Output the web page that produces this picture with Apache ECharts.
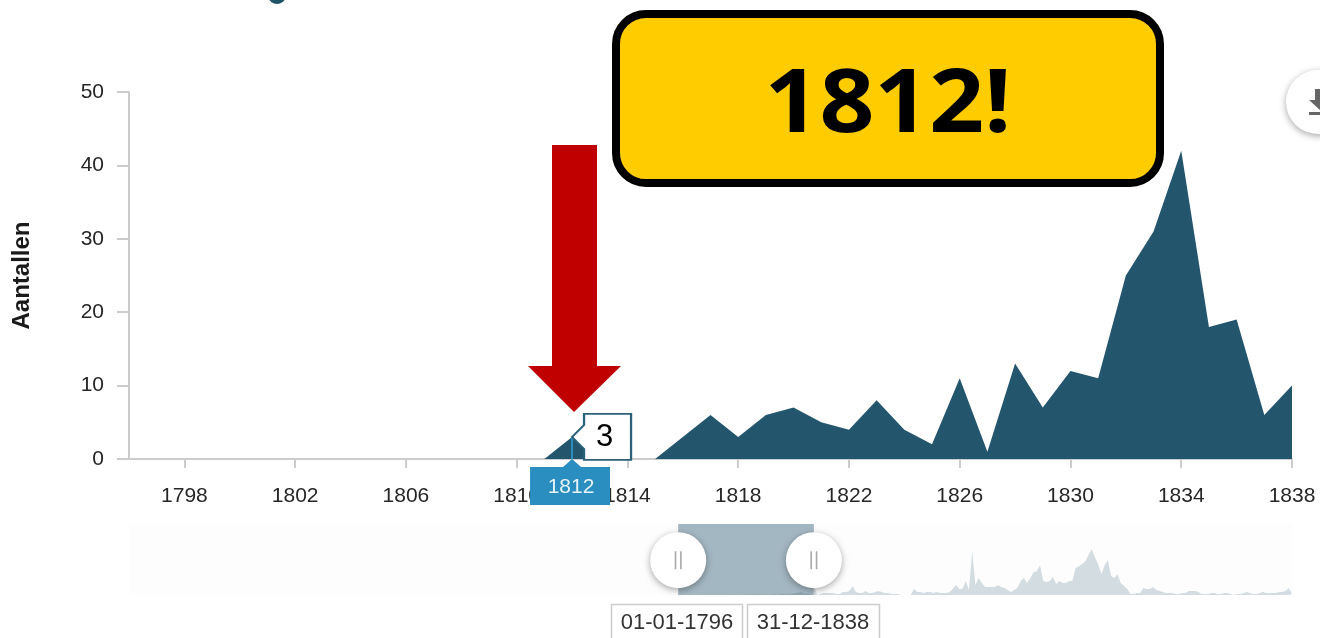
<!DOCTYPE html>
<html>
<head>
<meta charset="utf-8">
<style>html,body{margin:0;padding:0;background:#fff;overflow:hidden}#c{width:1320px;height:638px}</style>
<script src="https://cdn.jsdelivr.net/npm/echarts@6/dist/echarts.min.js"></script>
</head>
<body>
<div id="c"></div>
<script>
const firstYear = 1796;
const counts = [0,0,0,0,0,0,0,0,0,0,0,0,0,0,0,0,3,0,0,0,3,6,3,6,7,5,4,8,4,2,11,1,13,7,12,11,25,31,42,18,19,6,10];
const overviewFirstYear = 1838;
const overviewCounts = [140,0,14,28,28,28,28,14,14,42,42,56,126,42,28,28,56,28,28,42,56,42,28,28,14,14,14,0,0,0,0,84,42,42,28,42,42,28,42,28,28,28,42,84,140,84,84,196,70,616,140,238,168,112,112,112,112,140,112,98,70,42,70,98,196,238,168,238,322,336,420,196,182,196,252,154,196,168,168,196,196,378,406,434,476,560,644,532,434,294,420,490,266,238,294,168,126,84,14,14,28,28,98,84,84,112,70,56,42,28,28,28,14,14,28,28,56,56,56,42,14,14,14,28,28,14,14,28,28,14,0,14,14,28,42,28,14,14,28,42,28,28,28,28,42,42,56,98,14];
const xTickYears = [1798,1802,1806,1810,1814,1818,1822,1826,1830,1834,1838];
const highlightYear = 1812;
const highlightCount = 3;
const rangeLabels = ['01-01-1796','31-12-1838'];
const yAxisTitle = 'Aantallen';
const bannerText = '1812!';

const mainData = counts.map((v,i)=>[firstYear+i,v]);
const overviewData = overviewCounts.map((v,i)=>[overviewFirstYear+i,v]);
const rangeStart = firstYear;
const rangeEnd = firstYear+counts.length-1;
const FONT = '"Liberation Sans", Arial, sans-serif';
const handleY = 490;
const handleShadow = {color:'#fff',shadowBlur:7,shadowColor:'rgba(0,0,0,0.35)',shadowOffsetY:2};
const gripPath = 'path://M0 0h1.5v17h-1.5z M5 0h1.5v17h-1.5z';
const handlePoint = (year)=>({coord:[year,handleY],symbol:'circle',symbolSize:56,itemStyle:handleShadow,label:{show:false}});
const gripPoint = (year)=>({coord:[year,handleY],symbol:gripPath,symbolSize:[7,18],itemStyle:{color:'#a9a9a9'},label:{show:false}});

const chart = echarts.init(document.getElementById('c'),null,{renderer:'canvas',width:1320,height:638});
chart.setOption({
  animation:false,
  backgroundColor:'#fff',
  textStyle:{fontFamily:FONT},
  grid:[
    {left:129,right:28,top:92,height:367,show:false},
    {left:129,right:28,top:524,height:71,show:true,backgroundColor:'#fdfdfd',borderWidth:0}
  ],
  xAxis:[
    {type:'value',gridIndex:0,min:rangeStart,max:rangeEnd,splitLine:{show:false},
     axisLine:{show:true,lineStyle:{color:'#cccccc',width:2}},
     axisTick:{show:true,length:9,customValues:xTickYears,lineStyle:{color:'#cccccc',width:2}},
     axisLabel:{show:true,customValues:xTickYears,color:'#262626',fontSize:21,margin:27,fontFamily:FONT,formatter:v=>String(v)}},
    {type:'value',gridIndex:1,min:1626,max:1986,show:false,splitLine:{show:false}}
  ],
  yAxis:[
    {type:'value',gridIndex:0,min:0,max:50,interval:10,splitLine:{show:false},
     name:yAxisTitle,nameLocation:'middle',nameGap:95,nameRotate:90,
     nameTextStyle:{fontSize:24,fontWeight:'bold',color:'#1a1a1a',fontFamily:FONT},
     axisLine:{show:true,lineStyle:{color:'#cccccc',width:2}},
     axisTick:{show:true,length:12,lineStyle:{color:'#cccccc',width:2}},
     axisLabel:{color:'#262626',fontSize:21,margin:25,fontFamily:FONT}},
    {type:'value',gridIndex:1,min:0,max:1000,show:false,splitLine:{show:false}}
  ],
  series:[
    {type:'line',name:yAxisTitle,xAxisIndex:0,yAxisIndex:0,data:mainData,showSymbol:false,z:3,
     lineStyle:{width:0},areaStyle:{color:'#23566d',opacity:1},
     markLine:{silent:true,symbol:'none',label:{show:false},lineStyle:{color:'#2a8fc0',width:2,type:'solid'},
       data:[[{coord:[highlightYear,0]},{coord:[highlightYear,highlightCount]}]],z:8},
     markPoint:{silent:true,z:12,data:[
       {coord:[highlightYear,highlightCount],symbol:'path://M0 23L12 11L12 0L59 0L59 46L12 46L12 35Z',symbolSize:[59,46],symbolOffset:[29.5,0],
        itemStyle:{color:'#fff',borderColor:'#2b6079',borderWidth:2},
        label:{show:true,position:'inside',offset:[3,0],formatter:String(highlightCount),color:'#000',fontSize:31,fontFamily:FONT}},
       {coord:[highlightYear,0],symbol:'path://M0 8L33 8L42 0L51 8L80 8L80 46L0 46Z',symbolSize:[80,46],symbolOffset:[-2,23],
        itemStyle:{color:'#2a8fc0'},
        label:{show:true,position:'inside',offset:[1,5],formatter:String(highlightYear),color:'#e6f3fa',fontSize:21,fontFamily:FONT}}
     ]}},
    {type:'line',name:'overzicht',xAxisIndex:1,yAxisIndex:1,data:overviewData,showSymbol:false,z:2,
     lineStyle:{width:0},areaStyle:{color:'#d3dce1',opacity:1},
     markArea:{silent:true,itemStyle:{color:'#a3b7c2',opacity:1},data:[[{coord:[rangeStart,0]},{coord:[rangeEnd,1000]}]]}},
    {type:'line',name:'selectie',xAxisIndex:1,yAxisIndex:1,data:mainData,showSymbol:false,z:3,
     lineStyle:{width:0},areaStyle:{color:'#8aa3af',opacity:1},
     markPoint:{silent:true,z:9,data:[handlePoint(rangeStart),handlePoint(rangeEnd)]}},
    {type:'line',name:'grepen',xAxisIndex:1,yAxisIndex:1,data:[],z:10,
     markPoint:{silent:true,z:10,data:[gripPoint(rangeStart),gripPoint(rangeEnd)]}}
  ],
  graphic:[
    {type:'arc',silent:true,z:20,shape:{cx:277,cy:-5,r:7,startAngle:0.4,endAngle:Math.PI-0.4},style:{stroke:'#1f5368',lineWidth:4,fill:'none'}},
    {type:'circle',silent:true,z:20,shape:{cx:1318,cy:102,r:32},style:{fill:'#fff',shadowBlur:7,shadowColor:'rgba(0,0,0,0.35)',shadowOffsetY:2}},
    {type:'polygon',silent:true,z:21,shape:{points:[[1315,89],[1320,89],[1320,110],[1309,100],[1315,100]]},style:{fill:'#666'}},
    {type:'rect',silent:true,z:21,shape:{x:1309,y:112,width:11,height:3},style:{fill:'#666'}},
    {type:'rect',silent:true,z:30,shape:{x:616,y:14,width:544,height:169,r:30},style:{fill:'#ffcc00',stroke:'#000',lineWidth:8}},
    {type:'text',silent:true,z:31,x:888,y:107,scaleY:0.92,style:{text:bannerText,fontFamily:'"Open Sans","Noto Sans",sans-serif',fontWeight:'bold',fontSize:96,fill:'#000',align:'center',verticalAlign:'middle'}},
    {type:'polygon',silent:true,z:30,shape:{points:[[552,145],[597,145],[597,366],[621,366],[574,412],[528,366],[552,366]]},style:{fill:'#c00000'}},
    {type:'rect',silent:true,z:20,shape:{x:611.5,y:604.5,width:131,height:44},style:{fill:'#fff',stroke:'#cccccc',lineWidth:1.5}},
    {type:'rect',silent:true,z:20,shape:{x:747.5,y:604.5,width:132,height:44},style:{fill:'#fff',stroke:'#cccccc',lineWidth:1.5}},
    {type:'text',silent:true,z:21,x:677,y:623,style:{text:rangeLabels[0],fontFamily:FONT,fontSize:22,fill:'#333',align:'center',verticalAlign:'middle'}},
    {type:'text',silent:true,z:21,x:813,y:623,style:{text:rangeLabels[1],fontFamily:FONT,fontSize:22,fill:'#333',align:'center',verticalAlign:'middle'}}
  ]
});
</script>
</body>
</html>
